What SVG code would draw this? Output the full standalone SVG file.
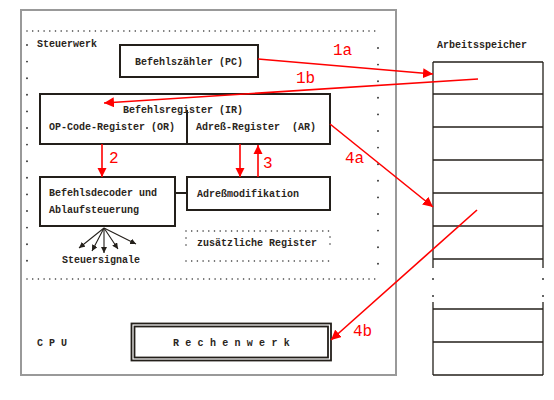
<svg xmlns="http://www.w3.org/2000/svg" width="554" height="400" viewBox="0 0 554 400">
<defs>
<style>
.t{font-family:"Liberation Mono","Courier New",monospace;font-size:10px;font-weight:bold;fill:#2a2520;white-space:pre}
.r{font-family:"Liberation Mono","Courier New",monospace;font-size:16px;fill:#ff0000}
.box{fill:#fff;stroke:#231f1a;stroke-width:2}
.thin{fill:none;stroke:#231f1a;stroke-width:1.3}
.dot{fill:none;stroke:#333;stroke-width:1.6;stroke-linecap:round;stroke-dasharray:0 5.7}
.dotv{fill:none;stroke:#333;stroke-width:1.9;stroke-linecap:round;stroke-dasharray:0 16.6}
.red{fill:none;stroke:#ff0000;stroke-width:1.6}
.sig{fill:none;stroke:#231f1a;stroke-width:1.1}
</style>
<marker id="ra" viewBox="0 0 10 10" refX="10" refY="5" markerWidth="10" markerHeight="10" markerUnits="userSpaceOnUse" orient="auto">
<path d="M0,0 L10,5 L0,10 z" fill="#ff0000"/>
</marker>
<marker id="rb" viewBox="0 0 10 10" refX="10" refY="5" markerWidth="9" markerHeight="12" markerUnits="userSpaceOnUse" orient="auto">
<path d="M0,0 L10,5 L0,10 z" fill="#ff0000"/>
</marker>
<marker id="ka" viewBox="0 0 10 10" refX="10" refY="5" markerWidth="6" markerHeight="6" markerUnits="userSpaceOnUse" orient="auto">
<path d="M0,0 L10,5 L0,10 z" fill="#231f1a"/>
</marker>
</defs>
<rect width="554" height="400" fill="#fff"/>

<g id="cpu">
<rect x="21" y="10" width="375" height="365" fill="none" stroke="#999" stroke-width="2"/>
<text class="t" x="37" y="346">C P U</text>
</g>

<g id="steuerwerk">
<line class="dot" x1="27" y1="31" x2="380" y2="31"/>
<line class="dot" x1="27" y1="279" x2="380" y2="279"/>
<line class="dotv" x1="27" y1="45" x2="27" y2="263"/>
<line class="dotv" x1="378" y1="48" x2="378" y2="264"/>
<text class="t" x="37" y="47">Steuerwerk</text>
</g>

<g id="pc">
<rect class="box" x="120" y="45" width="138" height="32"/>
<text class="t" x="135" y="65">Befehlszähler (PC)</text>
</g>

<g id="ir">
<rect class="box" x="40" y="94" width="290" height="50"/>
<line x1="187" y1="110" x2="187" y2="144" stroke="#231f1a" stroke-width="2"/>
<text class="t" x="123" y="113">Befehlsregister (IR)</text>
<text class="t" x="49" y="130">OP-Code-Register (OR)</text>
<text class="t" x="196" y="130" xml:space="preserve">Adreß-Register  (AR)</text>
</g>

<g id="decoder">
<rect class="box" x="40" y="177" width="135" height="49"/>
<text class="t" x="49" y="196">Befehlsdecoder und</text>
<text class="t" x="49" y="213">Ablaufsteuerung</text>
</g>

<g id="adressmod">
<rect class="box" x="187" y="177" width="143" height="33"/>
<text class="t" x="197" y="197">Adreßmodifikation</text>
</g>

<g id="zusatz">
<line class="dot" x1="186" y1="231" x2="330" y2="231"/>
<line class="dot" x1="186" y1="261" x2="330" y2="261"/>
<line class="dot" x1="186" y1="238" x2="186" y2="252" style="stroke-dasharray:0 7"/>
<line class="dot" x1="330" y1="237" x2="330" y2="251" style="stroke-dasharray:0 7"/>
<text class="t" x="197" y="246">zusätzliche Register</text>
</g>

<g id="steuersignale">
<text class="t" x="62" y="263">Steuersignale</text>
</g>

<g id="rechenwerk">
<rect x="131.5" y="323.5" width="199.5" height="37" fill="#fff" stroke="#231f1a" stroke-width="1.8"/>
<rect x="134.5" y="326.5" width="193.5" height="31" fill="none" stroke="#231f1a" stroke-width="1.8"/>
<text class="t" x="173" y="346" style="letter-spacing:6.3px">Rechenwerk</text>
</g>

<g id="arbeitsspeicher">
<text class="t" x="437" y="48">Arbeitsspeicher</text>
<line class="thin" x1="433" y1="62" x2="433" y2="268"/>
<line class="thin" x1="543" y1="62" x2="543" y2="268"/>
<line class="thin" x1="433" y1="302" x2="433" y2="375"/>
<line class="thin" x1="543" y1="302" x2="543" y2="375"/>
<line class="thin" x1="433" y1="62" x2="543" y2="62"/>
<line class="thin" x1="433" y1="94" x2="543" y2="94"/>
<line class="thin" x1="433" y1="127" x2="543" y2="127"/>
<line class="thin" x1="433" y1="160" x2="543" y2="160"/>
<line class="thin" x1="433" y1="193" x2="543" y2="193"/>
<line class="thin" x1="433" y1="226" x2="543" y2="226"/>
<line class="thin" x1="433" y1="259" x2="543" y2="259"/>
<line class="thin" x1="433" y1="309" x2="543" y2="309"/>
<line class="thin" x1="433" y1="342" x2="543" y2="342"/>
<line class="thin" x1="433" y1="375" x2="543" y2="375"/>
<circle cx="433" cy="279" r="1" fill="#333"/>
<circle cx="433" cy="296" r="1" fill="#333"/>
<circle cx="543" cy="279" r="1" fill="#333"/>
<circle cx="543" cy="296" r="1" fill="#333"/>
</g>

<g id="connectors">
<line x1="175" y1="193" x2="187" y2="193" stroke="#231f1a" stroke-width="2"/>
<line class="sig" x1="104" y1="228" x2="79" y2="248" marker-end="url(#ka)"/>
<line class="sig" x1="104" y1="228" x2="92" y2="251" marker-end="url(#ka)"/>
<line class="sig" x1="104" y1="228" x2="104" y2="253" marker-end="url(#ka)"/>
<line class="sig" x1="104" y1="228" x2="118" y2="249" marker-end="url(#ka)"/>
<line class="sig" x1="104" y1="228" x2="136" y2="244" marker-end="url(#ka)"/>

<line class="red" x1="258" y1="59" x2="433" y2="74" marker-end="url(#ra)"/>
<line class="red" x1="478" y1="79" x2="104" y2="103" marker-end="url(#ra)"/>
<line class="red" x1="330" y1="124" x2="433" y2="207" marker-end="url(#ra)"/>
<line class="red" x1="477" y1="210" x2="331" y2="340" marker-end="url(#ra)"/>
<line class="red" x1="102" y1="144" x2="102" y2="177" stroke-width="2" marker-end="url(#rb)"/>
<line class="red" x1="240" y1="144" x2="240" y2="177" stroke-width="2" marker-end="url(#rb)"/>
<line class="red" x1="258" y1="177" x2="258" y2="145" stroke-width="2" marker-end="url(#rb)"/>

<text class="r" x="333" y="55">1a</text>
<text class="r" x="296" y="83">1b</text>
<text class="r" x="109" y="163">2</text>
<text class="r" x="263" y="168">3</text>
<text class="r" x="345" y="163">4a</text>
<text class="r" x="353" y="336">4b</text>
</g>
</svg>
